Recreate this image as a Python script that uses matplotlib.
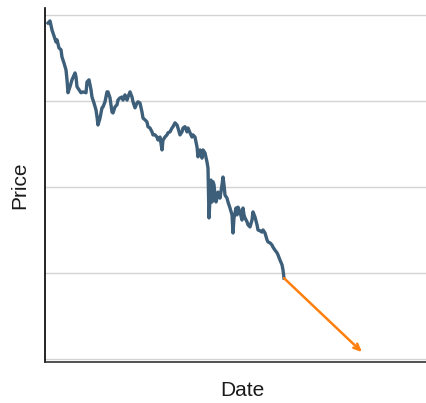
"""
Price history with a projected downward trend arrow.
"""

import numpy as np
import matplotlib.pyplot as plt

# day index and price
days = [3, 5, 7, 9, 11, 12, 14, 16, 17, 19, 21, 22, 23, 25, 27, 30, 31, 32, 34, 36,
        38, 41, 42, 44, 46, 47, 49, 51, 52, 53, 55, 57, 58, 60, 62, 63, 65, 67, 68, 70,
        72, 73, 75, 77, 78, 80, 82, 83, 85, 87, 88, 90, 92, 93, 95, 97, 98, 100, 102, 103,
        105, 107, 108, 110, 112, 113, 115, 117, 118, 120, 122, 123, 125, 127, 128, 130, 132, 133, 135, 137,
        138, 140, 142, 143, 145, 147, 148, 150, 152, 153, 155, 157, 158, 160, 162, 163, 164, 165, 166, 167,
        168, 169, 170, 171, 172, 173, 175, 177, 178, 179, 180, 182, 183, 185, 187, 188, 189, 191, 192, 193,
        195, 197, 198, 199, 200, 202, 203, 205, 207, 208, 210, 212, 213, 215, 217, 218, 220, 222, 223, 225,
        227, 228, 230, 232, 233, 235, 237, 238, 239]
prices = [98.1, 98.6, 96.5, 95.1, 93.7, 94.2, 92.3, 91.9, 90.2, 88.8, 87.2, 84.9, 81.9, 83.3, 84.9, 86.5, 85.6, 83.3, 82.6, 81.9,
          82.1, 81.9, 84.4, 84.9, 82.6, 80.9, 79.5, 77.9, 76.3, 74.4, 76.0, 78.4, 78.6, 79.8, 82.1, 82.1, 80.7, 77.4, 77.2, 78.6,
          79.1, 80.2, 80.7, 80.9, 80.2, 81.4, 80.2, 80.9, 82.1, 80.9, 79.8, 78.4, 79.5, 79.8, 79.5, 77.4, 76.0, 75.6, 75.1, 74.0,
          73.7, 72.8, 72.1, 72.1, 71.6, 70.9, 71.6, 68.6, 70.9, 71.6, 72.1, 72.6, 72.8, 73.7, 74.0, 74.9, 74.4, 73.7, 72.1, 72.8,
          73.7, 74.0, 72.8, 73.7, 72.6, 71.6, 72.1, 71.6, 69.3, 67.0, 68.6, 66.7, 68.6, 67.9, 65.8, 64.4, 52.8, 57.4, 61.6, 56.5,
          61.2, 60.5, 58.1, 56.5, 57.4, 58.8, 57.4, 60.5, 62.3, 60.5, 58.1, 57.4, 56.5, 55.1, 53.5, 49.3, 52.8, 55.1, 53.5, 55.3,
          54.2, 52.3, 55.1, 53.5, 52.8, 51.9, 51.2, 50.7, 52.3, 54.2, 53.0, 51.2, 50.0, 49.8, 49.5, 50.0, 49.3, 47.7, 47.2, 47.0,
          46.5, 46.0, 45.3, 44.7, 44.2, 43.0, 41.9, 40.7, 38.8]

# projected trend: from the last price to the arrow tip
trend_end_day = 317
trend_end_price = 21.6

grid_levels = [20, 40, 60, 80, 100]

fig = plt.figure(figsize=(4.27, 4.03), dpi=100)
# axes run a bit past the right edge, the reference is cropped there
ax = fig.add_axes([45 / 427, 41 / 403, 394 / 427, 354 / 403])

for lvl in grid_levels:
    ax.axhline(lvl, color='#d3d3d3', lw=1.0, zorder=0)

ax.plot(days, prices, color='#3d5f7a', lw=2.4, solid_joinstyle='round', zorder=3)

ax.annotate('', xy=(trend_end_day, trend_end_price), xytext=(days[-1], prices[-1]),
            arrowprops=dict(arrowstyle='->,head_length=0.45,head_width=0.2',
                            color='#ff7f0e', lw=1.8, shrinkA=0, shrinkB=0), zorder=4)

ax.set_xlim(0, 394)
ax.set_ylim(19.3, 101.6)
ax.set_xticks([])
ax.set_yticks([])

ax.spines['top'].set_visible(False)
ax.spines['right'].set_visible(False)
ax.spines['left'].set_linewidth(1.2)
ax.spines['bottom'].set_linewidth(1.2)
ax.spines['bottom'].set_color('#333333')

ax.set_xlabel('Date', fontsize=15, family='Liberation Sans', color='#1a1a1a', labelpad=14)
ax.set_ylabel('Price', fontsize=15, family='Liberation Sans', color='#1a1a1a', labelpad=11)

fig.savefig('out.png', dpi=100)
